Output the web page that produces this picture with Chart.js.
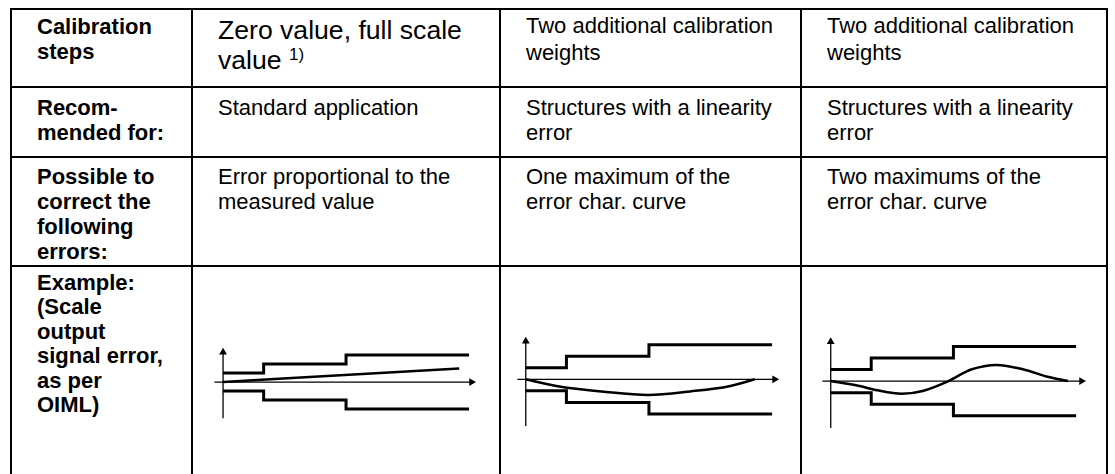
<!DOCTYPE html>
<html>
<head>
<meta charset="utf-8">
<script src="https://cdn.jsdelivr.net/npm/chart.js@4"></script>
<style>
  body { margin:0; background:#fff; font-family:"Liberation Sans", Arial, Helvetica, sans-serif; color:#000; }
  #page { position:relative; width:1115px; height:474px; overflow:hidden; }
  table { position:absolute; left:10px; top:8px; border-collapse:collapse; table-layout:fixed; width:1098px; }
  td { border:2px solid #000; vertical-align:top; font-size:22px; line-height:25px; padding:6px 10px 0 25px; }
  td.head { font-weight:bold; padding-left:25px; }
  .big { font-size:26.6px; line-height:30px; }
  sup { font-size:17px; vertical-align:top; position:relative; top:-5px; }
  canvas { position:absolute; }
</style>
</head>
<body>
<div id="page">
<table>
  <colgroup>
    <col style="width:181px"><col style="width:308px"><col style="width:301px"><col style="width:306px">
  </colgroup>
  <tr style="height:78px">
    <td class="head" style="padding-top:4px">Calibration<br>steps</td>
    <td class="big" style="padding-top:5px">Zero value, full scale<br>value <sup>1)</sup></td>
    <td style="padding-top:2px;line-height:27px">Two additional calibration<br>weights</td>
    <td style="padding-top:2px;line-height:27px">Two additional calibration<br>weights</td>
  </tr>
  <tr style="height:70px">
    <td class="head" style="padding-top:7px">Recom-<br>mended for:</td>
    <td style="padding-top:7px">Standard application</td>
    <td style="padding-top:7px">Structures with a linearity<br>error</td>
    <td style="padding-top:7px">Structures with a linearity<br>error</td>
  </tr>
  <tr style="height:109px">
    <td class="head">Possible to<br>correct the<br>following<br>errors:</td>
    <td>Error proportional to the<br>measured value</td>
    <td>One maximum of the<br>error char. curve</td>
    <td>Two maximums of the<br>error char. curve</td>
  </tr>
  <tr style="height:230px">
    <td class="head" style="padding-top:4px;line-height:24.4px">Example:<br>(Scale<br>output<br>signal error,<br>as per<br>OIML)</td>
    <td></td>
    <td></td>
    <td></td>
  </tr>
</table>
<canvas id="c1" width="285" height="90" style="left:205px;top:340px"></canvas>
<canvas id="c2" width="287" height="108" style="left:508px;top:328px"></canvas>
<canvas id="c3" width="288" height="110" style="left:812px;top:328px"></canvas>
</div>

<script>
// tolerance band (same shape in all three examples)
const stepX = [0, 16.5, 50, 100];
const bandUpper = [1, 2, 3, 3];
const bandLower = [-1, -2, -3, -3];

// error curves
const linX = [0, 96];
const linY = [0, 1.5];

const oneMaxX = [0, 13, 32.7, 49.7, 66.8, 82.6, 93];
const oneMaxY = [0, -0.6, -1.1, -1.35, -1.05, -0.6, 0];

const twoMaxX = [0, 11.2, 19, 28.9, 37.5, 48, 57.2, 67.6, 78.3, 88.8, 96.7];
const twoMaxY = [0, -0.4, -0.8, -1.1, -0.85, 0, 1.0, 1.4, 1.03, 0.35, 0];

// axis extents [start, arrow]
const axisX1 = [-3.5, 101], axisY1 = [-4.03, 3.3];
const axisX2 = [-3.4, 101], axisY2 = [-4.05, 3.3];
const axisX3 = [-3.4, 102.2], axisY3 = [-4.05, 3.4];

function pts(xs, ys){
  return xs.map((x, i) => ({x: x, y: ys[i]}));
}

function axisSets(ax, ay){
  return [
    {
      data: [{x: ax[0], y: 0}, {x: ax[1], y: 0}],
      borderColor: "#000", borderWidth: 1.3,
      pointRadius: [0, 4.5], pointStyle: "triangle", pointRotation: 90,
      pointBackgroundColor: "#000", pointBorderWidth: 0
    },
    {
      data: [{x: 0, y: ay[0]}, {x: 0, y: ay[1]}],
      borderColor: "#000", borderWidth: 1.3,
      pointRadius: [0, 4.5], pointStyle: "triangle", pointRotation: 0,
      pointBackgroundColor: "#000", pointBorderWidth: 0
    }
  ];
}

function bandSets(){
  return [bandUpper, bandLower].map(b => ({
    data: pts(stepX, b),
    stepped: true,
    borderColor: "#000", borderWidth: 3,
    pointRadius: 0
  }));
}

function dibujar(id, curve, ax, ay, xr, yr){
  new Chart(document.getElementById(id), {
    type: "line",
    data: {
      datasets: [
        ...axisSets(ax, ay),
        ...bandSets(),
        {
          data: curve,
          borderColor: "#000", borderWidth: 2.5,
          pointRadius: 0,
          cubicInterpolationMode: "monotone"
        }
      ]
    },
    options: {
      responsive: false,
      animation: false,
      layout: { padding: 0 },
      plugins: { legend: { display: false }, tooltip: { enabled: false } },
      scales: {
        x: { type: "linear", display: false, min: xr[0], max: xr[1] },
        y: { type: "linear", display: false, min: yr[0], max: yr[1] }
      }
    }
  });
}

dibujar("c1", pts(linX, linY), axisX1, axisY1, [-5.51, 106.69], [-4.83, 4.17]);
dibujar("c2", pts(oneMaxX, oneMaxY), axisX2, axisY2, [-5.39, 107.47], [-4.52, 4.05]);
dibujar("c3", pts(twoMaxX, twoMaxY), axisX3, axisY3, [-5.8, 107.9], [-4.53, 4.2]);
</script>
</body>
</html>
